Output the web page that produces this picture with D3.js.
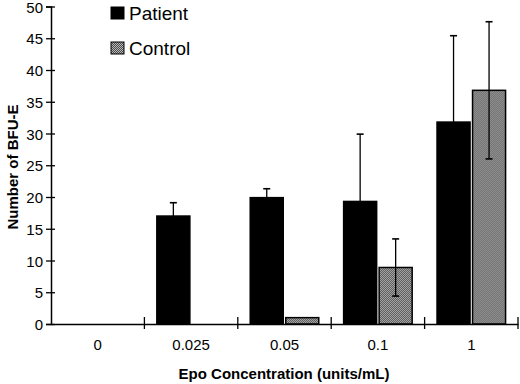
<!DOCTYPE html>
<html>
<head>
<meta charset="utf-8">
<script src="https://cdn.jsdelivr.net/npm/d3@7"></script>
<style>
    body { margin: 0; background: #fff; }
    svg { font-family: "Liberation Sans", Arial, sans-serif; }
</style>
</head>
<body>
<div id="chart"></div>
<script>
// data
const concentrations = ["0", "0.025", "0.05", "0.1", "1"];
const seriesNames = ["Patient", "Control"];
const patientValues = [0, 17.0, 19.9, 19.3, 31.8];
const patientErrors = [0, 2.1, 1.4, 10.6, 13.6];
const controlValues = [0, 0, 1.0, 8.9, 36.8];
const controlErrors = [0, 0, 0, 4.5, 10.8];
const yTicks = [0, 5, 10, 15, 20, 25, 30, 35, 40, 45, 50];

const width = 520, height = 384;
const margin = { top: 6.5, right: 2, bottom: 60, left: 51 };

const svg = d3.select("#chart").append("svg")
    .attr("width", width)
    .attr("height", height);

// checker fill for the control bars
const pat = svg.append("defs").append("pattern")
    .attr("id", "checker")
    .attr("width", 2).attr("height", 2)
    .attr("patternUnits", "userSpaceOnUse");
pat.append("rect").attr("width", 2).attr("height", 2).attr("fill", "#b8b8b8");
pat.append("rect").attr("width", 1).attr("height", 1).attr("fill", "#4a4a4a");
pat.append("rect").attr("x", 1).attr("y", 1).attr("width", 1).attr("height", 1).attr("fill", "#4a4a4a");

const fills = { Patient: "#000", Control: "url(#checker)" };

const plotBottom = 324;
const y = d3.scaleLinear().domain([0, 50]).range([plotBottom, margin.top]);
const x = d3.scaleBand().domain(concentrations)
    .range([margin.left, width - margin.right]);
const xSub = d3.scaleBand().domain(seriesNames)
    .range([0, x.bandwidth()])
    .paddingInner(0.07)
    .paddingOuter(0.35);

const rows = concentrations.map((c, i) => ({
    cat: c,
    values: [
        { name: "Patient", v: patientValues[i], e: patientErrors[i] },
        { name: "Control", v: controlValues[i], e: controlErrors[i] },
    ],
}));

// bars
const groups = svg.append("g").attr("class", "bars")
    .selectAll("g").data(rows).join("g")
    .attr("transform", d => `translate(${x(d.cat)},0)`);

groups.selectAll("rect")
    .data(d => d.values.filter(s => s.v > 0))
    .join("rect")
    .attr("x", d => xSub(d.name))
    .attr("y", d => y(d.v))
    .attr("width", xSub.bandwidth())
    .attr("height", d => plotBottom - y(d.v))
    .attr("fill", d => fills[d.name])
    .attr("stroke", "#000")
    .attr("stroke-width", 1.5);

// error bars
const errs = groups.selectAll("g.err")
    .data(d => d.values.filter(s => s.e > 0))
    .join("g")
    .attr("class", "err")
    .attr("transform", d => `translate(${xSub(d.name) + xSub.bandwidth() / 2},0)`);

errs.append("line")
    .attr("y1", d => y(d.v - d.e))
    .attr("y2", d => y(d.v + d.e))
    .attr("stroke", "#000")
    .attr("stroke-width", 1.3);

errs.selectAll("line.cap")
    .data(d => [d.v + d.e, d.v - d.e])
    .join("line")
    .attr("class", "cap")
    .attr("x1", -3.5).attr("x2", 3.5)
    .attr("y1", d => y(d)).attr("y2", d => y(d))
    .attr("stroke", "#000")
    .attr("stroke-width", 1.6);

// y axis
const yAxis = d3.axisLeft(y).tickValues(yTicks).tickSize(5).tickPadding(3);
const yAxisGroup = svg.append("g")
    .attr("transform", `translate(${margin.left},0)`)
    .call(yAxis);
yAxisGroup.select(".domain").attr("stroke-width", 1.5);
yAxisGroup.selectAll(".tick line").attr("x1", 4).attr("x2", -5).attr("stroke-width", 1.3);
yAxisGroup.selectAll("text")
    .attr("dy", "0.38em")
    .style("font-size", "15px")
    .attr("fill", "#000");

// x axis: labels centred, ticks on the category boundaries
const xAxis = d3.axisBottom(x).tickSize(0).tickPadding(15);
const xAxisGroup = svg.append("g")
    .attr("transform", `translate(0,${plotBottom})`)
    .call(xAxis);
xAxisGroup.select(".domain").attr("stroke-width", 1.5);
xAxisGroup.selectAll("text").style("font-size", "15px").attr("fill", "#000");

xAxisGroup.selectAll("line.bound")
    .data(concentrations)
    .join("line")
    .attr("class", "bound")
    .attr("x1", d => x(d) + x.step())
    .attr("x2", d => x(d) + x.step())
    .attr("y1", -7).attr("y2", 5)
    .attr("stroke", "#000")
    .attr("stroke-width", 1.3);

// axis titles
svg.append("text")
    .attr("transform", "translate(18,167) rotate(-90)")
    .attr("text-anchor", "middle")
    .style("font-size", "15px")
    .style("font-weight", "bold")
    .text("Number of BFU-E");

svg.append("text")
    .attr("x", 284)
    .attr("y", 379)
    .attr("text-anchor", "middle")
    .style("font-size", "15px")
    .style("font-weight", "bold")
    .text("Epo Concentration (units/mL)");

// legend
const legend = svg.append("g").attr("class", "legend")
    .selectAll("g").data(seriesNames).join("g")
    .attr("transform", (d, i) => `translate(111,${7 + i * 35})`);

legend.append("rect")
    .attr("width", 13).attr("height", 12)
    .attr("fill", d => fills[d])
    .attr("stroke", "#000")
    .attr("stroke-width", 1);

legend.append("text")
    .attr("x", 18)
    .attr("y", 13)
    .style("font-size", "19px")
    .text(d => d);
</script>
</body>
</html>
